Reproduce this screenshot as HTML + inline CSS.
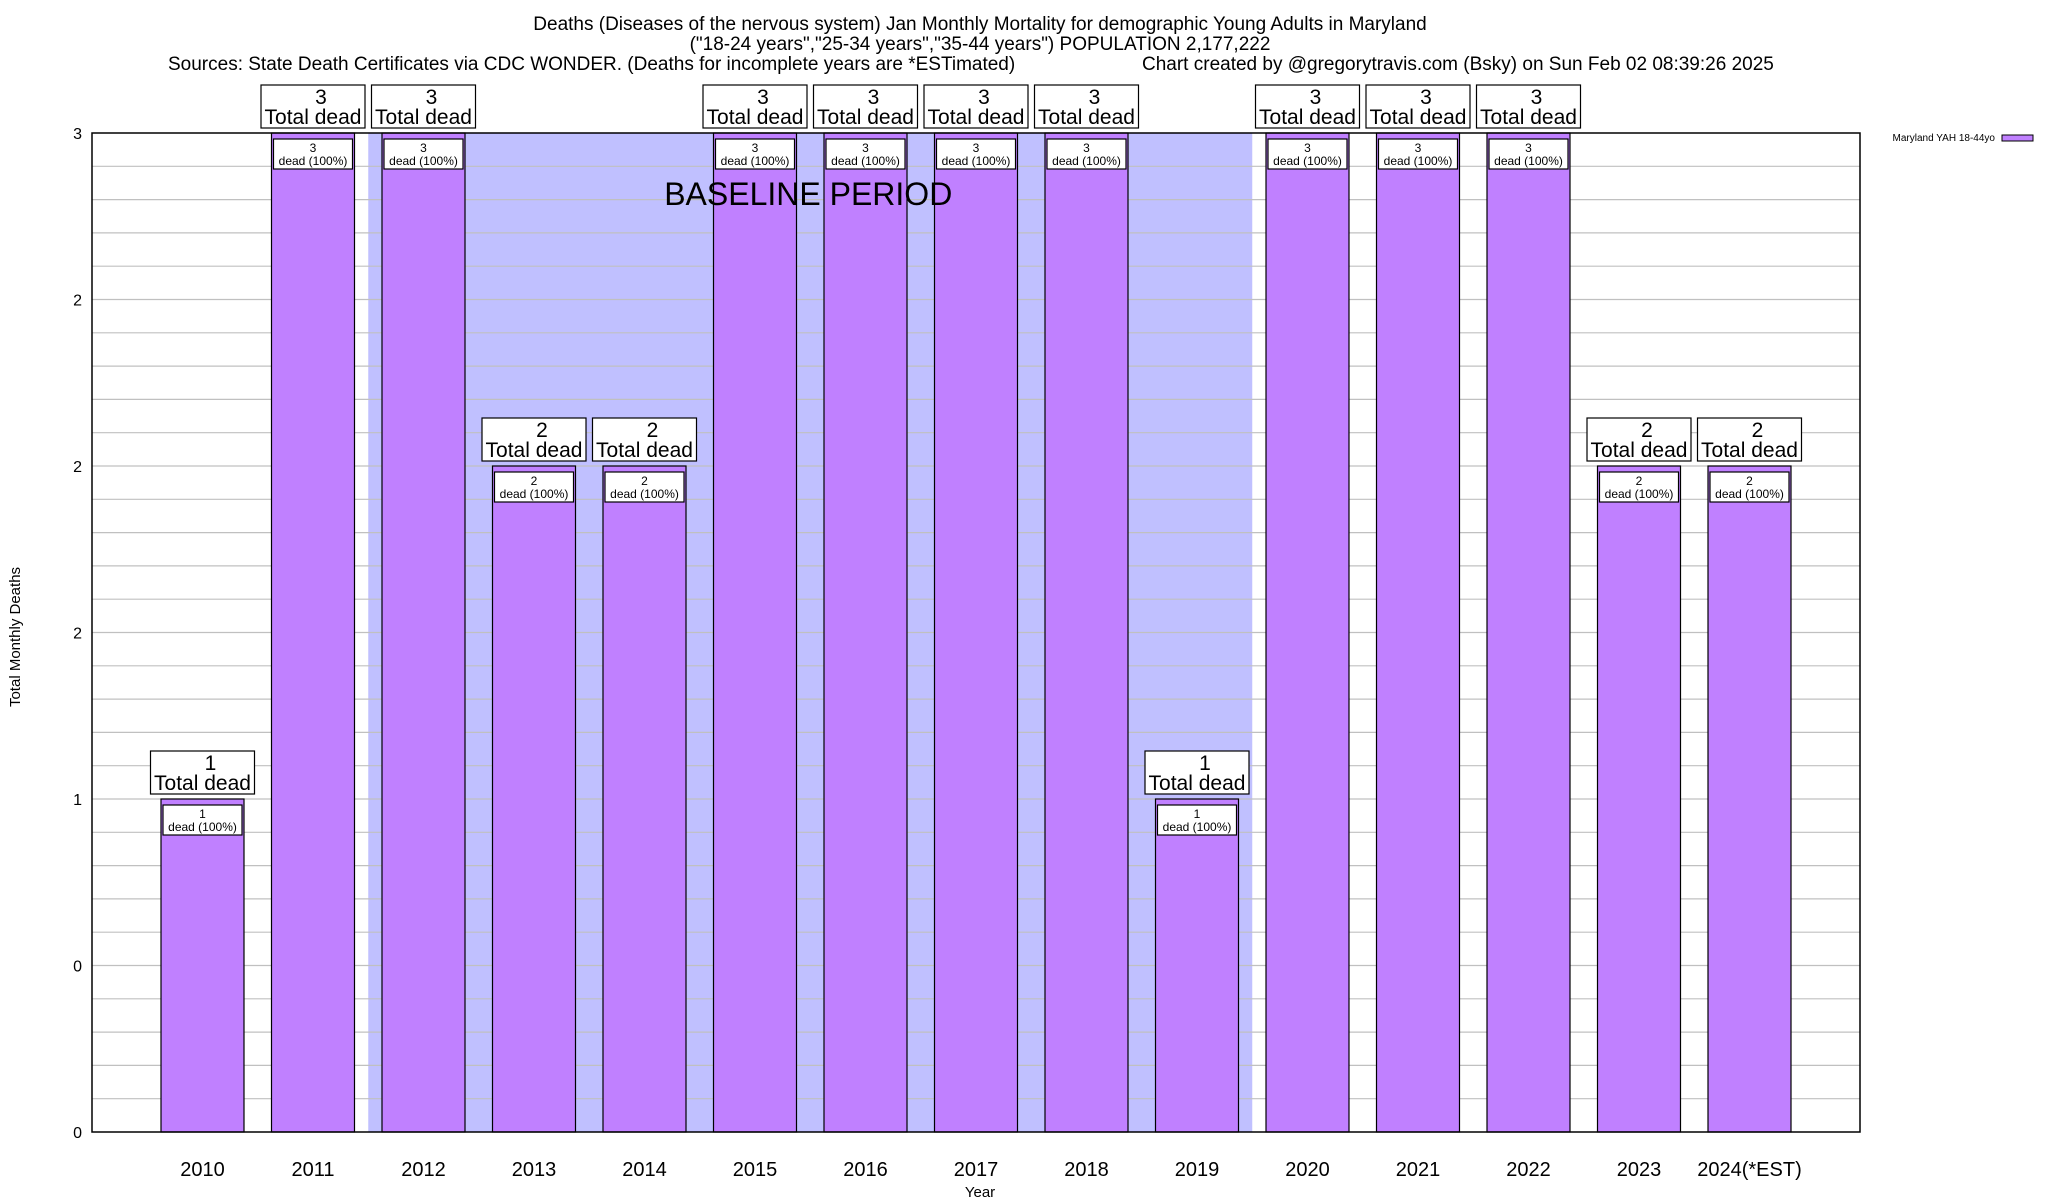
<!DOCTYPE html>
<html><head><meta charset="utf-8"><style>
html,body{margin:0;padding:0;background:#fff;}
svg{display:block;font-family:"Liberation Sans",sans-serif;}
</style></head><body>
<svg id="chart" width="2048" height="1200" viewBox="0 0 2048 1200">
<g font-size="19" fill="#000">
<text x="980" y="30" text-anchor="middle">Deaths (Diseases of the nervous system) Jan Monthly Mortality for demographic Young Adults in Maryland</text>
<text x="980" y="50" text-anchor="middle">("18-24 years","25-34 years","35-44 years") POPULATION 2,177,222</text>
<text x="168" y="70">Sources: State Death Certificates via CDC WONDER. (Deaths for incomplete years are *ESTimated)</text>
<text x="1142" y="70">Chart created by @gregorytravis.com (Bsky) on Sun Feb 02 08:39:26 2025</text>
</g>
<g id="baseline"></g>
<g id="grid"></g>
<g id="bars"></g>
<g id="overlay"></g>
<rect x="92" y="133" width="1768" height="999" fill="none" stroke="#000" stroke-width="1.5"/>
<g id="yticks" font-size="16"></g>
<g id="xticks" font-size="20"></g>
<text x="20" y="637" font-size="15" text-anchor="middle" transform="rotate(-90 20 637)">Total Monthly Deaths</text>
<text x="980" y="1197" font-size="15" text-anchor="middle">Year</text>
<g>
<text x="1995" y="141" font-size="10" text-anchor="end">Maryland YAH 18-44yo</text>
<rect x="2002" y="135" width="31" height="6" fill="#c080ff" stroke="#000"/>
</g>
</svg>
<script>
const categories=["2010","2011","2012","2013","2014","2015","2016","2017","2018","2019","2020","2021","2022","2023","2024(*EST)"];
const deaths=[1,3,3,2,2,3,3,3,3,1,3,3,3,2,2];
const yTickValues=[0,0.5,1,1.5,2,2.5,3];
const yTickLabels=["0","0","1","2","2","2","3"];
const baselineRange=[1.5,9.5];
const ns="http://www.w3.org/2000/svg";
const L=92,R=1860,T=133,B=1132,yMax=3;
function xs(i){return L+(R-L)*(i+1)/(categories.length+1);}
function ys(v){return B-(B-T)*v/yMax;}
function mk(tag,attrs,parent,text){const e=document.createElementNS(ns,tag);for(const k in attrs)e.setAttribute(k,attrs[k]);if(text!==undefined)e.textContent=text;parent.appendChild(e);return e;}
const gB=document.getElementById('baseline');
const bx0=xs(baselineRange[0]),bx1=xs(baselineRange[1]);
const br=mk('rect',{x:bx0,y:T,width:bx1-bx0,height:B-T,fill:'#c0c0ff'},gB);


const grid=document.getElementById('grid');
for(let k=1;k<30;k++){const v=k*0.1;const gl=mk('line',{x1:L,x2:R,y1:ys(v),y2:ys(v),stroke:'#c0c0c0','stroke-width':1.2},grid);

}
const gb=document.getElementById('bars');
const bw=83;
categories.forEach((c,i)=>{
 const cx=xs(i),v=deaths[i],top=ys(v);
 const g=mk('g',{},gb);
 
 
 mk('rect',{x:cx-bw/2,y:top,width:bw,height:B-top,fill:'#c080ff',stroke:'#000','stroke-width':1.2},g);
 mk('rect',{x:cx-bw/2+2,y:top+6,width:bw-4,height:30,fill:'#fff',stroke:'#000','stroke-width':1.2},g);
 mk('text',{x:cx,y:top+19,'font-size':12,'text-anchor':'middle'},g,String(v));
 mk('text',{x:cx,y:top+32,'font-size':12,'text-anchor':'middle'},g,'dead (100%)');
 const lb=mk('g',{},g);
 
 
 mk('rect',{x:cx-52,y:top-48,width:104,height:43,fill:'#fff',stroke:'#000','stroke-width':1.2},lb);
 mk('text',{x:cx+8,y:top-29,'font-size':21,'text-anchor':'middle'},lb,String(v));
 mk('text',{x:cx,y:top-9,'font-size':21,'text-anchor':'middle'},lb,'Total dead');
 const xt=mk('text',{x:cx,y:1176,'text-anchor':'middle'},document.getElementById('xticks'),c);
 
 
});
const bt=mk('text',{x:(bx0+bx1)/2-2,y:205,'font-size':32,'text-anchor':'middle'},document.getElementById('overlay'),'BASELINE PERIOD');


const gy=document.getElementById('yticks');
yTickValues.forEach((v,i)=>{
 const t=mk('text',{x:82,y:ys(v)+6,'text-anchor':'end'},gy,yTickLabels[i]);
 
 
});
</script>
</body></html>
